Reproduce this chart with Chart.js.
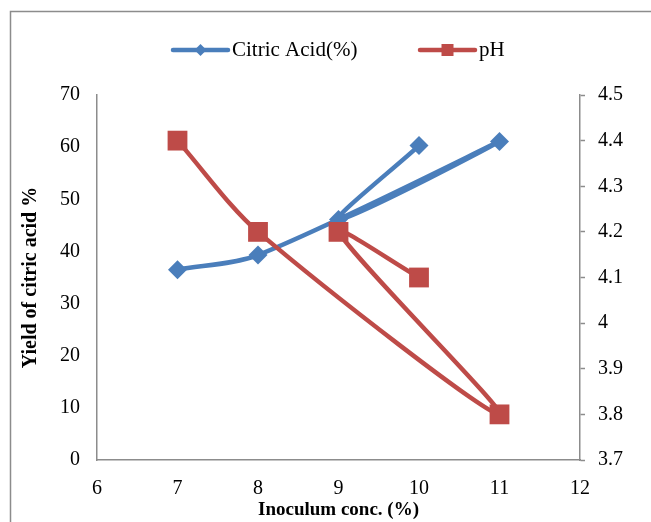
<!DOCTYPE html>
<html>
<head>
<meta charset="utf-8">
<script src="https://cdn.jsdelivr.net/npm/chart.js@4"></script>
<style>
  html, body { margin: 0; padding: 0; background: #fff; }
  #wrap { width: 651px; height: 522px; }
</style>
</head>
<body>
<div id="wrap"><canvas id="chart" width="651" height="522"></canvas></div>
<script>
// data, in the order the original series were entered
const inoculum = [7, 8, 11, 9, 10];
const citricAcid = [36.5, 39.3, 61.1, 46.1, 60.3];
const pH = [4.4, 4.2, 3.8, 4.2, 4.1];

const seriesNames = ['Citric Acid(%)', 'pH'];
const xTitle = 'Inoculum conc. (%)';
const yTitle = 'Yield of citric acid %';

const blue = '#4A7EBB';
const red = '#BE4B48';
const axisGrey = '#8C8C8C';
const serif = '"Liberation Serif", "Times New Roman", serif';

// legend drawn by hand so it shows line + marker like Excel
const legendPlugin = {
    id: 'excelLegend',
    afterDraw(chart) {
        const ctx = chart.ctx;
        const y = 50;
        const items = [
            { x: 173, color: blue, style: 'diamond', text: seriesNames[0] },
            { x: 420, color: red, style: 'square', text: seriesNames[1] }
        ];
        ctx.save();
        items.forEach(it => {
            ctx.strokeStyle = it.color;
            ctx.lineWidth = 4.5;
            ctx.lineCap = 'round';
            ctx.beginPath();
            ctx.moveTo(it.x, y);
            ctx.lineTo(it.x + 55, y);
            ctx.stroke();
            ctx.fillStyle = it.color;
            const cx = it.x + 27.5;
            if (it.style === 'diamond') {
                ctx.beginPath();
                ctx.moveTo(cx - 6, y);
                ctx.lineTo(cx, y - 6);
                ctx.lineTo(cx + 6, y);
                ctx.lineTo(cx, y + 6);
                ctx.closePath();
                ctx.fill();
            } else {
                ctx.fillRect(cx - 6, y - 6, 12, 12);
            }
            ctx.fillStyle = '#000';
            ctx.font = '21px ' + serif;
            ctx.textBaseline = 'middle';
            ctx.fillText(it.text, it.x + 59, y);
        });
        ctx.restore();
    }
};

// white background + the outer frame (left and top edges visible)
const framePlugin = {
    id: 'frame',
    beforeDraw(chart) {
        const ctx = chart.ctx;
        ctx.save();
        ctx.fillStyle = '#fff';
        ctx.fillRect(0, 0, chart.width, chart.height);
        ctx.strokeStyle = axisGrey;
        ctx.lineWidth = 1.5;
        ctx.beginPath();
        ctx.moveTo(10.5, chart.height);
        ctx.lineTo(10.5, 11.5);
        ctx.lineTo(chart.width, 11.5);
        ctx.stroke();
        ctx.restore();
    }
};

new Chart(document.getElementById('chart'), {
    type: 'scatter',
    data: {
        datasets: [
            {
                label: seriesNames[0],
                data: inoculum.map((x, i) => ({ x: x, y: citricAcid[i] })),
                yAxisID: 'y',
                showLine: true,
                tension: 0.3,
                borderColor: blue,
                backgroundColor: blue,
                borderWidth: 4.5,
                pointStyle: 'rectRot',
                pointRadius: 9.5,
                pointBorderWidth: 0,
                order: 2
            },
            {
                label: seriesNames[1],
                data: inoculum.map((x, i) => ({ x: x, y: pH[i] })),
                yAxisID: 'y2',
                showLine: true,
                tension: 0.3,
                borderColor: red,
                backgroundColor: red,
                borderWidth: 4.5,
                pointStyle: 'rect',
                pointRadius: 14,
                pointBorderWidth: 0,
                order: 1
            }
        ]
    },
    options: {
        responsive: false,
        animation: false,
        layout: { padding: { top: 95, left: 0, right: 0, bottom: 0 } },
        plugins: {
            legend: { display: false },
            tooltip: { enabled: false }
        },
        scales: {
            x: {
                type: 'linear',
                min: 6,
                max: 12,
                ticks: { stepSize: 1, padding: 17, color: '#000', font: { family: serif, size: 20 } },
                grid: { drawOnChartArea: false, drawTicks: false },
                border: { color: axisGrey, width: 1.5 },
                title: { display: true, text: xTitle, color: '#000', font: { family: serif, size: 19, weight: 'bold' }, padding: { top: 0, bottom: 1 } },
                afterFit(scale) { scale.height = 62; }
            },
            y: {
                position: 'left',
                min: 0,
                max: 70,
                ticks: { stepSize: 10, padding: 17, color: '#000', font: { family: serif, size: 20 } },
                grid: { drawOnChartArea: false, drawTicks: false },
                border: { color: axisGrey, width: 1.5 },
                title: { display: true, text: yTitle, color: '#000', font: { family: serif, size: 20, weight: 'bold' }, padding: { top: 19, bottom: 0 } },
                afterFit(scale) { scale.width = 97; }
            },
            y2: {
                position: 'right',
                min: 3.7,
                max: 4.5,
                ticks: {
                    stepSize: 0.1,
                    padding: 13,
                    color: '#000',
                    font: { family: serif, size: 20 },
                    callback: v => String(Number(v.toFixed(1)))
                },
                grid: { drawOnChartArea: false, drawTicks: true, tickLength: 5, color: axisGrey, tickWidth: 1.5 },
                border: { color: axisGrey, width: 1.5 },
                afterFit(scale) { scale.width = 71; }
            }
        }
    },
    plugins: [framePlugin, legendPlugin]
});
</script>
</body>
</html>
